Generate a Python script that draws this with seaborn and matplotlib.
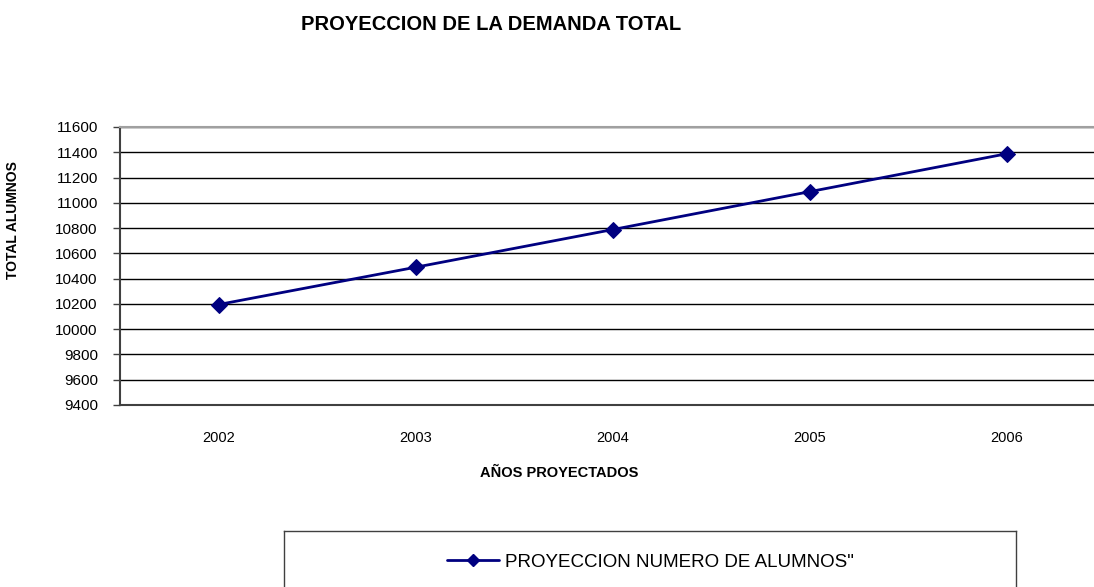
import numpy as np
import pandas as pd
import seaborn as sns
import matplotlib.pyplot as plt
from matplotlib.lines import Line2D

# data
years = ["2002", "2003", "2004", "2005", "2006"]
alumnos = [10195, 10490, 10788, 11088, 11388]
y_ticks = list(range(9400, 11601, 200))

sns.set_theme(style="white")
plt.rcParams['font.family'] = ['Liberation Sans', 'DejaVu Sans']
plt.rcParams['text.color'] = 'black'
plt.rcParams['xtick.color'] = 'black'
plt.rcParams['ytick.color'] = 'black'
plt.rcParams['axes.labelcolor'] = 'black'

df = pd.DataFrame({"anio": years, "alumnos": alumnos})

fig = plt.figure(figsize=(10.94, 5.87), dpi=100)
ax = fig.add_axes([120/1094, 1-405/587, 985/1094, 278/587])

sns.lineplot(data=df, x="anio", y="alumnos", ax=ax, color="#000080", linewidth=2,
             marker="D", markersize=8, markeredgecolor="#000080", sort=False)

ax.set_xlim(-0.5, len(years)-0.5)
ax.set_ylim(y_ticks[0], y_ticks[-1])
ax.set_yticks(y_ticks)
ax.set_yticklabels([str(v) for v in y_ticks], fontsize=11)
ax.yaxis.grid(True, color="black", linewidth=1)
ax.set_axisbelow(True)

# category labels without ticks, ticks between categories
ax.set_xticks(range(len(years)))
ax.set_xticklabels(years, fontsize=10.5)
ax.tick_params(axis="x", which="major", length=0, pad=19)
ax.set_xticks(np.arange(0.5, len(years)-1, 1), minor=True)
ax.tick_params(axis="x", which="minor", length=5, width=1, color="#404040", direction="out")
ax.tick_params(axis="y", length=5, width=1, color="#404040", direction="out", left=True, pad=11)

for s in ["left", "bottom"]:
    ax.spines[s].set_color("#404040")
    ax.spines[s].set_linewidth(1.5)
ax.spines["top"].set_color("#a0a0a0")
ax.spines["top"].set_linewidth(1.5)
ax.spines["right"].set_visible(False)

ax.set_xlabel("")
ax.set_ylabel("TOTAL ALUMNOS", fontsize=10, fontweight="bold")
ax.yaxis.set_label_coords((20-120)/985, (405-220)/278)

fig.text(491/1094, 1-25/587, "PROYECCION DE LA DEMANDA TOTAL", ha="center", va="center",
         fontsize=14.5, fontweight="bold")
fig.text(559/1094, 1-473/587, "AÑOS PROYECTADOS", ha="center", va="center",
         fontsize=10.5, fontweight="bold")

# legend box
handle = Line2D([], [], color="#000080", linewidth=2, marker="D", markersize=6)
leg_h = 1-531/587+0.05
leg_ax = fig.add_axes([284/1094, -0.05, 732/1094, leg_h])
leg_ax.set_xticks([])
leg_ax.set_yticks([])
for s in leg_ax.spines.values():
    s.set_color("#404040")
    s.set_linewidth(1)
leg_ax.legend([handle], ['PROYECCION NUMERO DE ALUMNOS"'], loc="center",
              bbox_to_anchor=(0.5, 1-31/587/leg_h), frameon=False,
              fontsize=13.5, handlelength=2.8, handletextpad=0.3)

fig.savefig("out.png", dpi=100)
